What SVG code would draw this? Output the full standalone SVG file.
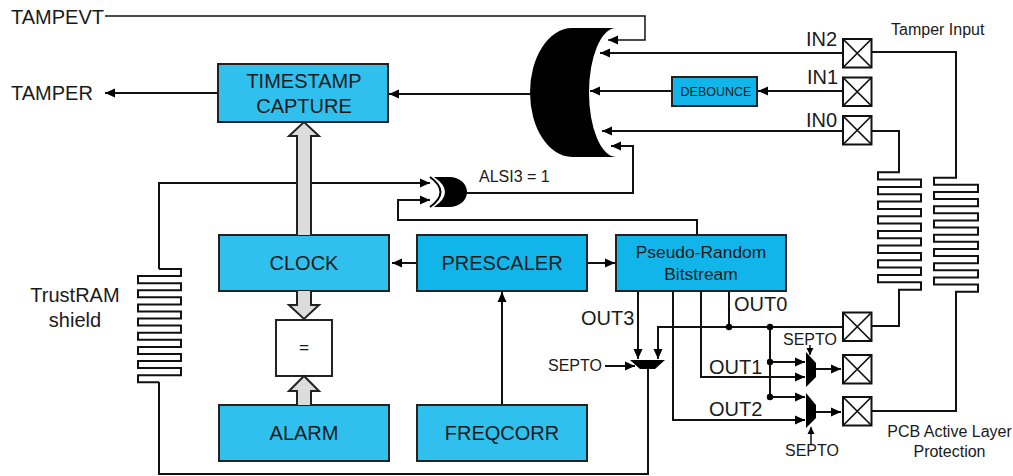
<svg xmlns="http://www.w3.org/2000/svg" width="1013" height="476" viewBox="0 0 1013 476">
<style>
text{font-family:"Liberation Sans",Arial,sans-serif;fill:#1a1a1a}
.box{fill:#2fc0ee;stroke:#222;stroke-width:2}
.box2{fill:#12b5ea;stroke:#222;stroke-width:2}
.l{fill:none;stroke:#111;stroke-width:2}
.bus{fill:#dcdcdc;stroke:#222;stroke-width:2}
.x{fill:#fff;stroke:#111;stroke-width:2}
.xl{fill:none;stroke:#111;stroke-width:1.7}
.c{font-size:20px;text-anchor:middle}
.m{font-size:17.4px;text-anchor:middle}
.s{font-size:16px}
.b{font-size:20px}
</style>
<defs>
<marker id="a" markerUnits="userSpaceOnUse" markerWidth="11" markerHeight="10" refX="10" refY="5" orient="auto"><path d="M0,0.5L10,5L0,9.5Z" fill="#000"/></marker>
<marker id="n" markerUnits="userSpaceOnUse" markerWidth="8" markerHeight="8" refX="7" refY="4" orient="auto"><path d="M0,0.5L7,4L0,7.5Z" fill="#000"/></marker>
</defs>
<g id="connectors">
<path class="l" style="stroke-width:1.5" d="M105,16H645V40H608" marker-end="url(#a)"/>
<path class="l" d="M843,53H600" marker-end="url(#a)"/>
<path class="l" d="M843,91H758" marker-end="url(#a)"/>
<path class="l" d="M672,91H590" marker-end="url(#a)"/>
<path class="l" d="M843,131H602" marker-end="url(#a)"/>
<path class="l" d="M530,94H389" marker-end="url(#a)"/>
<path class="l" d="M218,93H105" marker-end="url(#a)"/>
<path class="l" d="M466,193H633V146H611" marker-end="url(#a)"/>
<path class="l" d="M159,269V183H430" marker-end="url(#a)"/>
<path class="l" d="M697,235V220H398V200H430" marker-end="url(#a)"/>
<path class="l" d="M417,263H392" marker-end="url(#a)"/>
<path class="l" d="M587,263H615" marker-end="url(#a)"/>
<path class="l" d="M502,405V292" marker-end="url(#a)"/>
<path class="l" d="M638,291V359" marker-end="url(#a)"/>
<path class="l" d="M729,291V327"/>
<path class="l" d="M843,327H658V359" marker-end="url(#a)"/>
<path class="l" d="M770,327V397"/>
<path class="l" d="M770,362H805" marker-end="url(#a)"/>
<path class="l" d="M770,397H805" marker-end="url(#a)"/>
<path class="l" d="M701,291V377H805" marker-end="url(#a)"/>
<path class="l" d="M673,291V420H805" marker-end="url(#a)"/>
<path class="l" d="M816,369H841" marker-end="url(#a)"/>
<path class="l" d="M816,412H841" marker-end="url(#a)"/>
<path class="l" d="M605,366H635" marker-end="url(#a)"/>
<path class="l" style="stroke-width:1.5" d="M810,345V355" marker-end="url(#n)"/>
<path class="l" style="stroke-width:1.5" d="M811,444V427" marker-end="url(#n)"/>
<path class="l" d="M648,369V474H159V382"/>
<circle cx="729" cy="327" r="3.2" fill="#000"/>
<circle cx="770" cy="327" r="3.2" fill="#000"/>
<circle cx="770" cy="362" r="3.2" fill="#000"/>
<circle cx="770" cy="397" r="3.2" fill="#000"/>
<path class="l" d="M159,269H181V276.1H138V283.2H181V290.2H138V297.3H181V304.4H138V311.5H181V318.6H138V325.6H181V332.7H138V339.8H181V346.9H138V354H181V361H138V368.1H181V375.2H138V382.3H159"/>
<path class="l" d="M871,131H899V172.3H878V179.6H921V187H878V194.3H921V201.6H878V209H921V216.3H878V223.6H921V231H878V238.3H921V245.6H878V253H921V260.3H878V267.6H921V275H878V282.3H921V289.7H899V326H871"/>
<path class="l" d="M871,52H956V177.7H934V184.8H978V192H934V199.1H978V206.2H934V213.3H978V220.5H934V227.6H978V234.7H934V241.8H978V249H934V256.1H978V263.2H934V270.3H978V277.5H934V284.6H978V291.7H956V411H871"/>
</g>
<g id="timestamp"><rect class="box" x="218" y="64" width="170" height="58"/><text class="c" x="304" y="88">TIMESTAMP</text><text class="c" x="304" y="113">CAPTURE</text></g>
<g id="clock"><rect class="box" x="219" y="235" width="170" height="56"/><text class="c" x="304" y="270">CLOCK</text></g>
<g id="prescaler"><rect class="box2" x="417" y="235" width="170" height="56"/><text class="c" x="502" y="270">PRESCALER</text></g>
<g id="prng"><rect class="box2" x="616" y="235" width="170" height="56"/><text class="m" x="701" y="258">Pseudo-Random</text><text class="m" x="701" y="280">Bitstream</text></g>
<g id="alarm"><rect class="box" x="219" y="405" width="170" height="56"/><text class="c" x="304" y="440">ALARM</text></g>
<g id="freqcorr"><rect class="box" x="417" y="405" width="170" height="56"/><text class="c" x="502" y="440">FREQCORR</text></g>
<g id="compare"><rect x="276" y="320" width="56" height="56" fill="#fff" stroke="#222" stroke-width="2"/><text class="m" x="304" y="353">=</text></g>
<g id="buses">
<path class="bus" d="M297,235V136H289L304,122L319,136H311V235"/>
<path class="bus" d="M297,291V305H289L304,319L319,305H311V291"/>
<path class="bus" d="M297,405V391H289L304,376L319,391H311V405"/>
</g>
<g id="or-gate"><path d="M572,28H616A27,64.5 0 0 0 616,157H572A42,64.5 0 0 1 572,28Z" fill="#000"/></g>
<g id="xor-gate"><path d="M434,177H449C460,177 467,184 467,192C467,200 460,207 449,207H434Q456,192 434,177Z" fill="#000"/><path d="M430,177Q451,192 430,207" fill="none" stroke="#000" stroke-width="2"/></g>
<g id="debounce"><rect class="box2" x="672" y="77" width="85" height="29"/><text x="716" y="96" font-size="12.5" text-anchor="middle">DEBOUNCE</text></g>
<g id="mux3"><path d="M630,360H665L655,369H640Z" fill="#000"/></g>
<g id="mux1"><path d="M806,352L816,363V377L806,387Z" fill="#000"/></g>
<g id="mux2"><path d="M806,393L816,405V418L806,428Z" fill="#000"/></g>
<g id="pad-in2"><rect class="x" x="843" y="39" width="28.5" height="28.5"/><path class="xl" d="M843,39L871.5,67.5M871.5,39L843,67.5"/></g>
<g id="pad-in1"><rect class="x" x="843" y="77.5" width="28.5" height="28.5"/><path class="xl" d="M843,77.5L871.5,106M871.5,77.5L843,106"/></g>
<g id="pad-in0"><rect class="x" x="843" y="116" width="28.5" height="28.5"/><path class="xl" d="M843,116L871.5,144.5M871.5,116L843,144.5"/></g>
<g id="pad-out0"><rect class="x" x="843" y="312.5" width="28.5" height="28.5"/><path class="xl" d="M843,312.5L871.5,341M871.5,312.5L843,341"/></g>
<g id="pad-out1"><rect class="x" x="843" y="355" width="28.5" height="28.5"/><path class="xl" d="M843,355L871.5,383.5M871.5,355L843,383.5"/></g>
<g id="pad-out2"><rect class="x" x="843" y="397" width="28.5" height="28.5"/><path class="xl" d="M843,397L871.5,425.5M871.5,397L843,425.5"/></g>
<g id="labels">
<text class="b" x="11" y="23.5">TAMPEVT</text>
<text class="b" x="11" y="100">TAMPER</text>
<text class="s" x="479" y="182">ALSI3 = 1</text>
<text class="b" x="806" y="46">IN2</text>
<text class="b" x="807" y="84">IN1</text>
<text class="b" x="806" y="127">IN0</text>
<text class="s" x="891" y="35">Tamper Input</text>
<text class="b" x="581" y="325">OUT3</text>
<text class="b" x="734" y="311">OUT0</text>
<text class="b" x="709" y="374">OUT1</text>
<text class="b" x="709" y="416">OUT2</text>
<text class="s" x="548" y="371">SEPTO</text>
<text class="s" x="783" y="345">SEPTO</text>
<text class="s" x="785" y="456">SEPTO</text>
<text class="s" x="949.5" y="437" text-anchor="middle">PCB Active Layer</text>
<text class="s" x="949.5" y="457" text-anchor="middle">Protection</text>
<text class="b" x="75" y="302" text-anchor="middle">TrustRAM</text>
<text class="b" x="75" y="327" text-anchor="middle">shield</text>
</g>
</svg>
